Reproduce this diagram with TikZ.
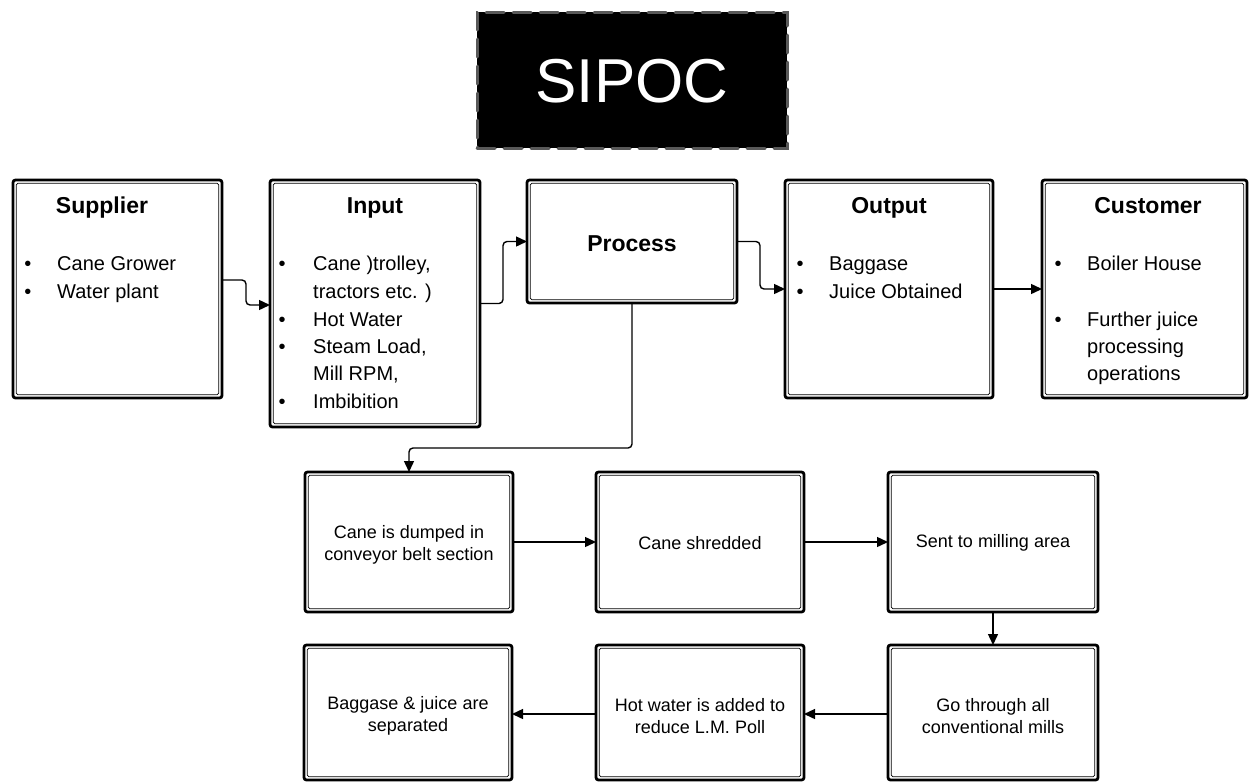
\documentclass[tikz,border=0pt]{standalone}
\usepackage{fontspec}
\setmainfont{Liberation Sans}
\usetikzlibrary{arrows.meta}
\begin{document}
\begin{tikzpicture}[x=1pt,y=-1pt,
  box/.style={draw, line width=2.8pt, rounded corners=2.5pt, inner sep=0pt, outer sep=0pt},
  innerline/.style={draw, line width=0.7pt, rounded corners=1.5pt},
  arr/.style={draw, line width=1.4pt, rounded corners=4pt, -{Triangle[length=11pt,width=10pt]}},
  head/.style={anchor=base, inner sep=0pt, font=\fontsize{23}{27}\selectfont\bfseries},
  tx/.style={anchor=base west, inner sep=0pt, font=\fontsize{20}{24}\selectfont},
  bul/.style={anchor=base, inner sep=0pt, font=\fontsize{20}{24}\selectfont},
  small/.style={align=center, inner sep=0pt, font=\fontsize{18}{22}\selectfont}]
\useasboundingbox (0,0) rectangle (1249,782);

% title
\node[fill=black, draw=black!65, line width=3pt, dash pattern=on 18pt off 9pt, line cap=round,
      minimum width=310pt, minimum height=136pt, inner sep=0pt] (title) at (632,80) {};
\node[text=white, anchor=base, font=\fontsize{62}{66}\selectfont, inner sep=0pt] (titletxt) at (632,102) {SIPOC};

% top row boxes
\node[box, minimum width=209pt, minimum height=218pt] (sup) at (117.5,289) {};
\node[box, minimum width=210pt, minimum height=247pt] (inp) at (375,303.5) {};
\node[box, minimum width=210pt, minimum height=123pt] (proc) at (632,241.5) {};
\node[box, minimum width=208pt, minimum height=218pt] (out) at (889,289) {};
\node[box, minimum width=205pt, minimum height=218pt] (cus) at (1144.5,289) {};

% bottom boxes
\node[box, minimum width=208pt, minimum height=140pt] (b1) at (409,542) {};
\node[box, minimum width=208pt, minimum height=140pt] (b2) at (700,542) {};
\node[box, minimum width=210pt, minimum height=140pt] (b3) at (993,542) {};
\node[box, minimum width=210pt, minimum height=135pt] (b4) at (993,712.5) {};
\node[box, minimum width=208pt, minimum height=135pt] (b5) at (700,712.5) {};
\node[box, minimum width=208pt, minimum height=135pt] (b6) at (408,712.5) {};

\foreach \n in {sup,inp,proc,out,cus,b1,b2,b3,b4,b5,b6}
  \draw[innerline] ([shift={(3.3pt,-3.3pt)}]\n.north west) rectangle ([shift={(-3.3pt,3.3pt)}]\n.south east);

% headings
\node[head] (hsup) at (102,213) {Supplier};
\node[head] (hinp) at (375,213) {Input};
\node[head] (hproc) at (632,251) {Process};
\node[head] (hout) at (889,213) {Output};
\node[head] (hcus) at (1148,213) {Customer};

% supplier
\node[bul] (sb1) at (28,270) {\textbullet};
\node[bul] (sb2) at (28,298) {\textbullet};
\node[tx] (st1) at (57,270) {Cane Grower};
\node[tx] (st2) at (57,298) {Water plant};

% input
\node[bul] (ib1) at (282,270) {\textbullet};
\node[bul] (ib2) at (282,326) {\textbullet};
\node[bul] (ib3) at (282,353) {\textbullet};
\node[bul] (ib4) at (282,408) {\textbullet};
\node[tx] (it1) at (313,270) {Cane )trolley,};
\node[tx] (it2) at (313,298) {tractors etc. )};
\node[tx] (it3) at (313,326) {Hot Water};
\node[tx] (it4) at (313,353) {Steam Load,};
\node[tx] (it5) at (313,380) {Mill RPM,};
\node[tx] (it6) at (313,408) {Imbibition};

% output
\node[bul] (ob1) at (800,270) {\textbullet};
\node[bul] (ob2) at (800,298) {\textbullet};
\node[tx] (ot1) at (829,270) {Baggase};
\node[tx] (ot2) at (829,298) {Juice Obtained};

% customer
\node[bul] (cb1) at (1058,270) {\textbullet};
\node[bul] (cb2) at (1058,326) {\textbullet};
\node[tx] (ct1) at (1087,270) {Boiler House};
\node[tx] (ct2) at (1087,326) {Further juice};
\node[tx] (ct3) at (1087,353) {processing};
\node[tx] (ct4) at (1087,380) {operations};

% bottom texts
\node[small] (t1) at (409,545) {Cane is dumped in\\conveyor belt section};
\node[small] (t2) at (700,543) {Cane shredded};
\node[small] (t3) at (993,543) {Sent to milling area};
\node[small] (t4) at (993,716) {Go through all\\conventional mills};
\node[small] (t5) at (700,716) {Hot water is added to\\reduce L.M. Poll};
\node[small] (t6) at (408,716) {Baggase \& juice are\\separated};

% connectors
\draw[arr] ([yshift=9pt]sup.east) -- ++(24,0) |- ([yshift=-1.5pt]inp.west);
\draw[arr] (inp.east) -- ++(23,0) |- (proc.west);
\draw[arr] (proc.east) -- ++(23,0) |- (out.west);
\draw[arr] (out.east) -- (cus.west);
\coordinate (bend) at (632,448);
\draw[arr] (proc.south) -- (bend) -| (b1.north);
\draw[arr] (b1.east) -- (b2.west);
\draw[arr] (b2.east) -- (b3.west);
\draw[arr] (b3.south) -- (b4.north);
\draw[arr] ([yshift=-1.5pt]b4.west) -- ([yshift=-1.5pt]b5.east);
\draw[arr] ([yshift=-1.5pt]b5.west) -- ([yshift=-1.5pt]b6.east);
\end{tikzpicture}
\end{document}
